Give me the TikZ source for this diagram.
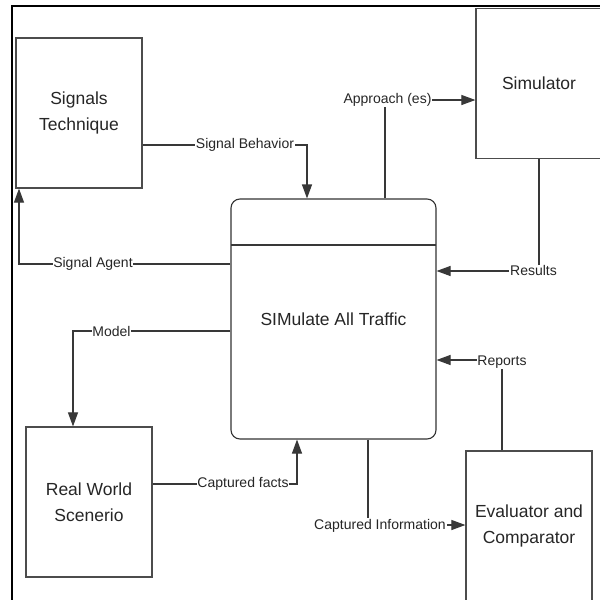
\documentclass[tikz,border=0pt]{standalone}
\usepackage{fontspec}
\setmainfont{Liberation Sans}
\usetikzlibrary{arrows.meta}
\begin{document}
\begin{tikzpicture}[x=1pt,y=-1pt,
  box/.style={draw=black!70,line width=1.2pt,minimum width=126pt,minimum height=150pt,inner sep=0pt,align=center,font=\fontsize{17.5}{26}\selectfont,text=black!85},
  conn/.style={draw=black!78,line width=1.1pt},
  arr/.style={conn,-{Triangle[length=14pt,width=10pt]}},
  lbl/.style={fill=white,inner sep=0.8pt,font=\fontsize{14}{16}\selectfont,text=black!85}]
\useasboundingbox (0,0) rectangle (600,600);
\fill[white] (0,0) rectangle (600,600);
\begin{scope}
\clip (0,0) rectangle (600,600);
\draw[line width=2.5pt] (12,600) -- (12,6) -- (600,6);
\node[box] (sig) at (79,113) {Signals\\Technique};
\node[box] (sim) at (539,83.5) {Simulator};
\node[box] (rw) at (89,502) {Real World\\Scenerio};
\node[box] (ev) at (529,526) {Evaluator and\\Comparator};
\node[draw=black!80,line width=1.1pt,rounded corners=9pt,minimum width=205pt,minimum height=240pt,inner sep=0pt,font=\fontsize{17.5}{21}\selectfont,text=black!85] (main) at (333.5,319) {SIMulate All Traffic};
\coordinate (hl) at (231,245);
\coordinate (hr) at (436,245);
\draw[conn] (hl) -- (hr);
% Signal Behavior
\coordinate (c1) at (307,145);
\draw[arr] (sig.east|-c1) -- (c1) -- (c1|-main.north);
\node[lbl] (l1) at (245,145) {Signal Behavior};
% Approach
\coordinate (c2) at (385,100);
\draw[arr] (c2|-main.north) -- (c2) -- (c2-|sim.west);
\node[lbl] (l2) at (387.5,99.5) {Approach (es)};
% Results
\coordinate (c3) at (539,271);
\draw[arr] (c3|-sim.south) -- (c3) -- (c3-|main.east);
\node[lbl] (l3) at (533.5,270.5) {Results};
% Signal Agent
\coordinate (c4) at (19,264);
\draw[arr] (c4-|main.west) -- (c4) -- (c4|-sig.south);
\node[lbl] (l4) at (93,264) {Signal Agent};
% Model
\coordinate (c5) at (73,331);
\draw[arr] (c5-|main.west) -- (c5) -- (c5|-rw.north);
\node[lbl] (l5) at (111.5,331) {Model};
% Captured facts
\coordinate (c6) at (297,484);
\draw[arr] (rw.east|-c6) -- (c6) -- (c6|-main.south);
\node[lbl] (l6) at (243,484) {Captured facts};
% Captured Information
\coordinate (c7) at (368,525);
\draw[arr] (c7|-main.south) -- (c7) -- (c7-|ev.west);
\node[lbl] (l7) at (380,525.5) {Captured Information};
% Reports
\coordinate (c8) at (502,360);
\draw[arr] (c8|-ev.north) -- (c8) -- (c8-|main.east);
\node[lbl] (l8) at (502,362) {Reports};
\end{scope}
\end{tikzpicture}
\end{document}
